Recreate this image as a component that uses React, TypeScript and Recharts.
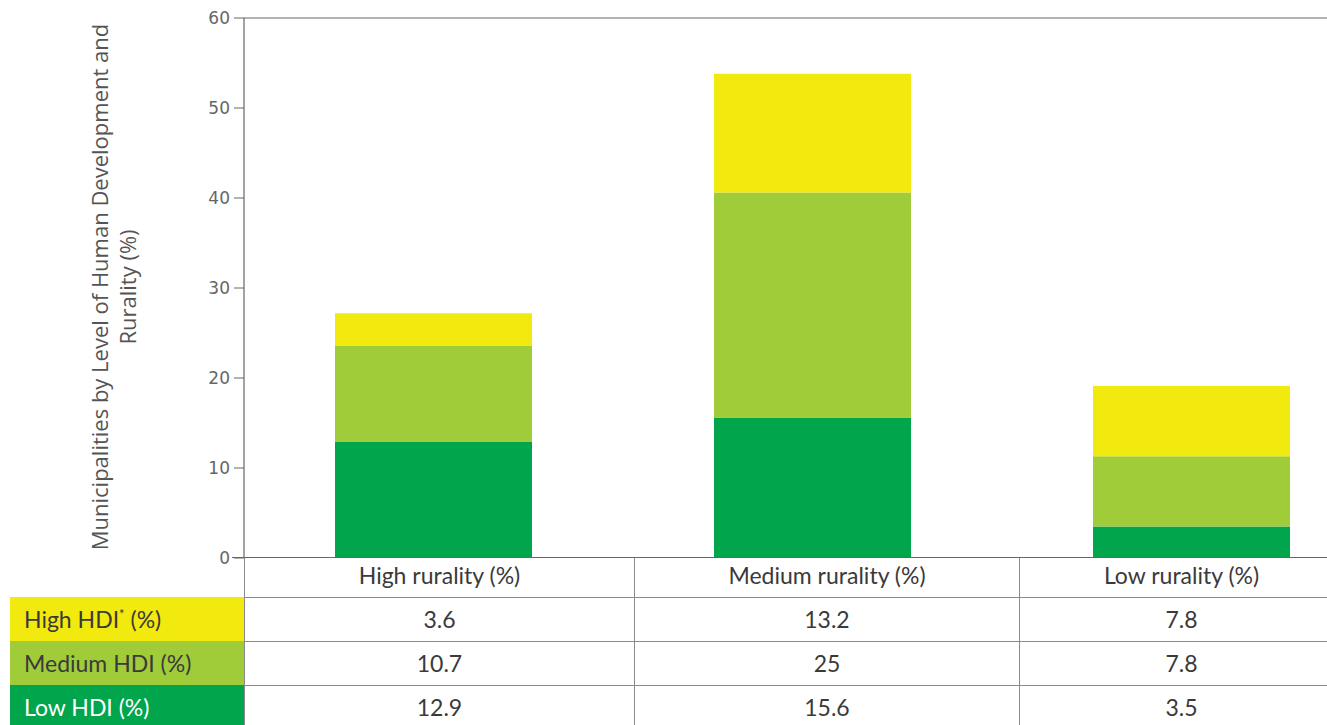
import { BarChart, Bar, XAxis, YAxis, ReferenceLine } from 'recharts';

const categories = ['High rurality (%)', 'Medium rurality (%)', 'Low rurality (%)'];
const highHdi = [3.6, 13.2, 7.8];
const mediumHdi = [10.7, 25, 7.8];
const lowHdi = [12.9, 15.6, 3.5];
const yTicks = [0, 10, 20, 30, 40, 50, 60];

const YELLOW = '#f2e90e';
const LIGHT_GREEN = '#a0cc3a';
const DARK_GREEN = '#00a54c';

const data = categories.map((c, i) => ({
  category: c,
  low: lowHdi[i],
  medium: mediumHdi[i],
  high: highHdi[i],
}));

// rows of the data table under the chart, top to bottom
const tableRows = [
  { label: 'High HDI', sup: '*', values: highHdi, bg: YELLOW, fg: '#3a3a3a' },
  { label: 'Medium HDI', sup: '', values: mediumHdi, bg: LIGHT_GREEN, fg: '#3a3a3a' },
  { label: 'Low HDI', sup: '', values: lowHdi, bg: DARK_GREEN, fg: '#ffffff' },
];

const colLeft = [244, 634, 1019];
const colWidth = [390, 385, 324];
const tableFont = 'Lato, "Open Sans", sans-serif';
const tableSize = 23;
const lineColor = '#8a8a8a';

export default function App() {
  return (
    <div style={{ position: 'absolute', left: 0, top: 0, width: 1327, height: 725, overflow: 'hidden', background: '#fff' }}>
      <BarChart
        width={1381}
        height={600}
        data={data}
        margin={{ top: 18, right: 0, bottom: 2, left: 0 }}
        barCategoryGap={91}
      >
        <XAxis dataKey="category" height={40} tick={false} tickLine={false} axisLine={{ stroke: '#666', strokeWidth: 1.2 }} />
        <YAxis
          width={244}
          domain={[0, 60]}
          ticks={yTicks}
          interval={0}
          tickSize={10}
          tickMargin={4}
          tick={{ fill: '#666', fontSize: 17, fontFamily: '"DejaVu Sans", sans-serif' }}
          tickLine={{ stroke: '#666' }}
          axisLine={{ stroke: '#666', strokeWidth: 1.2 }}
        />
        <ReferenceLine y={60} stroke="#999" strokeWidth={1.5} />
        <Bar dataKey="low" stackId="a" fill={DARK_GREEN} isAnimationActive={false} />
        <Bar dataKey="medium" stackId="a" fill={LIGHT_GREEN} isAnimationActive={false} />
        <Bar dataKey="high" stackId="a" fill={YELLOW} isAnimationActive={false} />
      </BarChart>

      {/* y axis title */}
      <div style={{
        position: 'absolute', left: 114 - 300, top: 287 - 29, width: 600, height: 58,
        transform: 'rotate(-90deg)', transformOrigin: 'center',
        textAlign: 'center', fontFamily: '"Open Sans", sans-serif', fontSize: 22,
        lineHeight: '28px', color: '#555',
      }}>
        Municipalities by Level of Human Development and<br />Rurality (%)
      </div>

      {/* header row: category names */}
      {categories.map((c, i) => (
        <div key={c} style={{
          position: 'absolute', left: colLeft[i], top: 558, width: colWidth[i], height: 39,
          borderLeft: `1px solid ${lineColor}`, boxSizing: 'border-box', background: '#fff',
          paddingBottom: 5,
          display: 'flex', alignItems: 'center', justifyContent: 'center',
          fontFamily: tableFont, fontSize: tableSize, color: '#3a3a3a',
        }}>{c}</div>
      ))}

      {tableRows.map((row, r) => (
        <div key={row.label}>
          <div style={{
            position: 'absolute', left: 10, top: 597 + r * 44, width: 234, height: 44,
            background: row.bg, color: row.fg, boxSizing: 'border-box', paddingLeft: 14,
            display: 'flex', alignItems: 'center', fontFamily: tableFont, fontSize: tableSize,
          }}>
            <span>{row.label}{row.sup && <sup style={{ fontSize: 13 }}>{row.sup}</sup>} (%)</span>
          </div>
          {row.values.map((v, i) => (
            <div key={i} style={{
              position: 'absolute', left: colLeft[i], top: 597 + r * 44, width: colWidth[i], height: 44,
              borderLeft: `1px solid ${lineColor}`, borderTop: `1px solid ${lineColor}`, boxSizing: 'border-box',
              background: '#fff', paddingBottom: 2,
              display: 'flex', alignItems: 'center', justifyContent: 'center',
              fontFamily: tableFont, fontSize: tableSize, color: '#3a3a3a',
            }}>{v}</div>
          ))}
        </div>
      ))}

      {/* x axis line on top of the header row */}
      <div style={{ position: 'absolute', left: 232, top: 557, width: 1100, height: 1, background: '#666' }} />
    </div>
  );
}
